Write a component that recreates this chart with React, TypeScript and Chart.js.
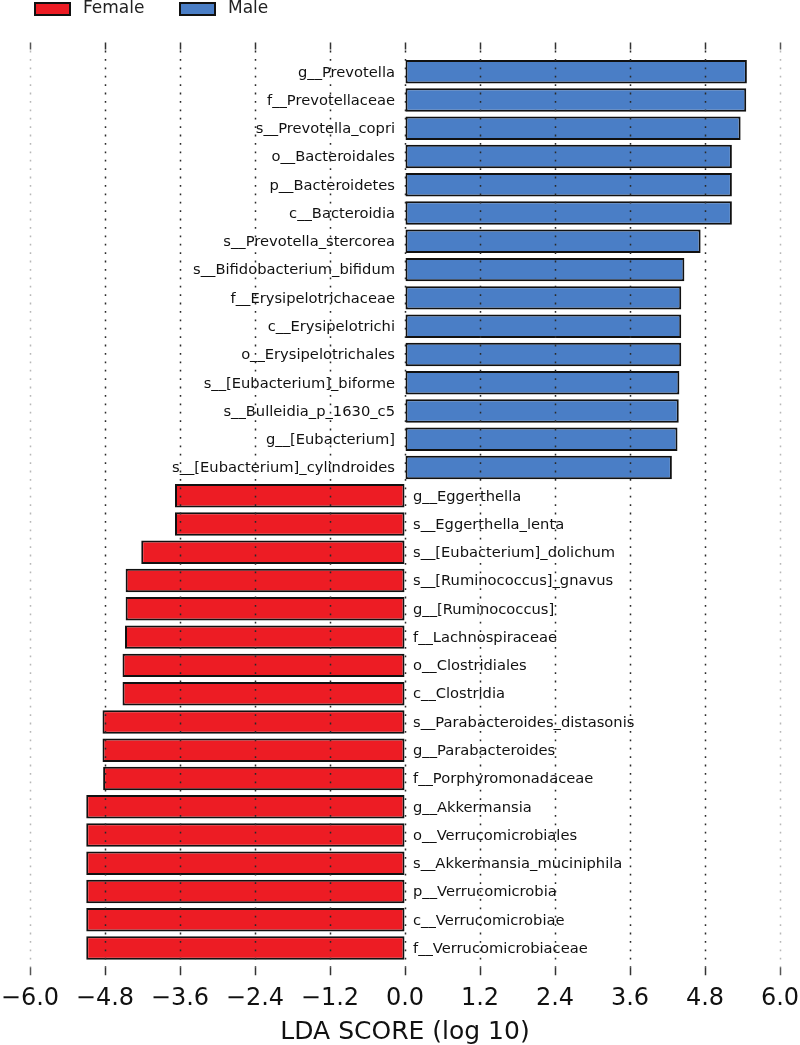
import React, { useEffect, useRef } from 'react';
import { Chart, registerables } from 'chart.js';

Chart.register(...registerables);

const maleTaxa = [
  'g__Prevotella',
  'f__Prevotellaceae',
  's__Prevotella_copri',
  'o__Bacteroidales',
  'p__Bacteroidetes',
  'c__Bacteroidia',
  's__Prevotella_stercorea',
  's__Bifidobacterium_bifidum',
  'f__Erysipelotrichaceae',
  'c__Erysipelotrichi',
  'o__Erysipelotrichales',
  's__[Eubacterium]_biforme',
  's__Bulleidia_p_1630_c5',
  'g__[Eubacterium]',
  's__[Eubacterium]_cylindroides',
];
const maleScores = [5.47, 5.46, 5.37, 5.23, 5.23, 5.23, 4.73, 4.47, 4.42, 4.42, 4.42, 4.39, 4.38, 4.36, 4.27];

const femaleTaxa = [
  'g__Eggerthella',
  's__Eggerthella_lenta',
  's__[Eubacterium]_dolichum',
  's__[Ruminococcus]_gnavus',
  'g__[Ruminococcus]',
  'f__Lachnospiraceae',
  'o__Clostridiales',
  'c__Clostridia',
  's__Parabacteroides_distasonis',
  'g__Parabacteroides',
  'f__Porphyromonadaceae',
  'g__Akkermansia',
  'o__Verrucomicrobiales',
  's__Akkermansia_muciniphila',
  'p__Verrucomicrobia',
  'c__Verrucomicrobiae',
  'f__Verrucomicrobiaceae',
];
const femaleScores = [-3.68, -3.68, -4.22, -4.47, -4.47, -4.48, -4.52, -4.52, -4.84, -4.84, -4.83, -5.1, -5.1, -5.1, -5.1, -5.1, -5.1];

const xTickValues = [-6.0, -4.8, -3.6, -2.4, -1.2, 0.0, 1.2, 2.4, 3.6, 4.8, 6.0];
const groupNames = ['Female', 'Male'];
const groupColors = ['#ED1C24', '#4A7EC6'];
const axisTitle = 'LDA SCORE (log 10)';

const FONT = "'DejaVu Sans', 'Liberation Sans', sans-serif";

const categories = [...maleTaxa, ...femaleTaxa];
const femaleData = [...maleTaxa.map(() => null), ...femaleScores];
const maleData = [...maleScores, ...femaleTaxa.map(() => null)];

const overlayPlugin = {
  id: 'ldaOverlay',
  afterDatasetsDraw(chart: any) {
    const { ctx, chartArea, scales } = chart;
    const x = scales.x;
    const y = scales.y;
    const x0 = x.getPixelForValue(0);
    ctx.save();
    // taxon labels
    ctx.font = `14.7px ${FONT}`;
    ctx.fillStyle = '#111';
    ctx.textBaseline = 'middle';
    categories.forEach((name, i) => {
      const yc = y.getPixelForValue(i);
      const v = maleData[i] != null ? (maleData[i] as number) : (femaleData[i] as number);
      if (v > 0) {
        ctx.textAlign = 'right';
        ctx.fillText(name, x0 - 10, yc + 1);
      } else {
        ctx.textAlign = 'left';
        ctx.fillText(name, x0 + 8, yc + 1);
      }
    });
    // dotted grid lines on top with tick marks
    xTickValues.forEach((v) => {
      const px = Math.round(x.getPixelForValue(v)) + 0.5;
      const edge = Math.abs(v) >= 6;
      ctx.lineWidth = 1.5;
      ctx.setLineDash([1.8, 6.6]);
      ctx.strokeStyle = edge ? '#b8b8b8' : '#2a2a2a';
      ctx.beginPath();
      ctx.moveTo(px, chartArea.top - 7);
      ctx.lineTo(px, chartArea.bottom + 5);
      ctx.stroke();
      ctx.setLineDash([]);
      ctx.strokeStyle = edge ? '#555' : '#333';
      ctx.beginPath();
      ctx.moveTo(px, chartArea.top - 15);
      ctx.lineTo(px, chartArea.top - 8);
      ctx.moveTo(px, chartArea.bottom + 5);
      ctx.lineTo(px, chartArea.bottom + 13);
      ctx.stroke();
    });
    ctx.restore();
  },
  afterDraw(chart: any) {
    const { ctx } = chart;
    ctx.save();
    ctx.font = `17px ${FONT}`;
    ctx.textBaseline = 'middle';
    ctx.textAlign = 'left';
    const items = [
      { box: 35, text: 83 },
      { box: 180, text: 228 },
    ];
    chart.data.datasets.forEach((ds: any, i: number) => {
      const it = items[i];
      ctx.fillStyle = ds.backgroundColor;
      ctx.fillRect(it.box, 3, 35, 12);
      ctx.lineWidth = 2;
      ctx.strokeStyle = '#111';
      ctx.strokeRect(it.box, 3, 35, 12);
      ctx.fillStyle = '#222';
      ctx.fillText(ds.label, it.text, 9);
    });
    ctx.restore();
  },
};

export default function App() {
  const canvasRef = useRef<HTMLCanvasElement | null>(null);

  useEffect(() => {
    const canvas = canvasRef.current;
    if (!canvas) return;
    const chart = new Chart(canvas, {
      type: 'bar',
      data: {
        labels: categories,
        datasets: [
          {
            label: groupNames[0],
            data: femaleData,
            backgroundColor: groupColors[0],
            borderColor: '#111',
            borderWidth: 2,
            borderSkipped: false,
            grouped: false,
            barPercentage: 0.83,
            categoryPercentage: 1.0,
          } as any,
          {
            label: groupNames[1],
            data: maleData,
            backgroundColor: groupColors[1],
            borderColor: '#111',
            borderWidth: 2,
            borderSkipped: false,
            grouped: false,
            barPercentage: 0.83,
            categoryPercentage: 1.0,
          } as any,
        ],
      },
      options: {
        indexAxis: 'y',
        animation: false,
        responsive: false,
        devicePixelRatio: 1,
        layout: { padding: { top: 57.6, left: 30, right: 20, bottom: 0 } },
        plugins: {
          legend: { display: false },
          tooltip: { enabled: false },
        },
        scales: {
          x: {
            type: 'linear',
            min: -6,
            max: 6,
            grid: {
              display: true,
              drawOnChartArea: false,
              drawTicks: true,
              tickLength: 22,
              color: 'rgba(0,0,0,0)',
            },
            border: { display: false },
            afterBuildTicks: (scale: any) => {
              scale.ticks = xTickValues.map((v) => ({ value: v }));
            },
            ticks: {
              padding: 0,
              color: '#111',
              font: { family: FONT, size: 24 },
              maxRotation: 0,
              autoSkip: false,
              callback: (v: any) => {
                const n = Number(v);
                const s = Math.abs(n).toFixed(1);
                return n < 0 ? '\u2212' + s : s;
              },
            },
            title: {
              display: true,
              text: axisTitle,
              color: '#111',
              font: { family: FONT, size: 25, lineHeight: 1.04 },
              padding: { top: 6, bottom: 0 },
            },
          },
          y: {
            type: 'category',
            display: false,
            offset: true,
          },
        },
      },
      plugins: [overlayPlugin],
    });
    return () => chart.destroy();
  }, []);

  return (
    <div style={{ position: 'fixed', left: 0, top: 0, width: 800, height: 1045, background: '#fff' }}>
      <canvas ref={canvasRef} width={800} height={1045} style={{ display: 'block', width: 800, height: 1045 }} />
    </div>
  );
}
